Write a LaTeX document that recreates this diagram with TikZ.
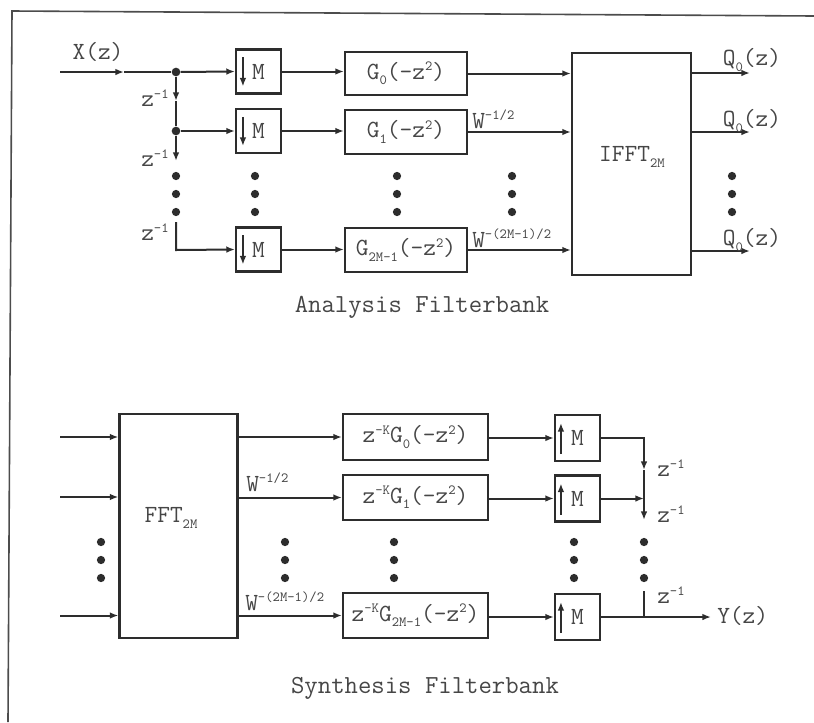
\documentclass[tikz,border=0pt]{standalone}
\usetikzlibrary{arrows.meta,calc}
\definecolor{lc}{RGB}{45,45,45}
\definecolor{tc}{RGB}{70,70,70}
\newcommand{\supx}[1]{\raisebox{0.8ex}{\fontsize{10.5}{11}\selectfont #1}}
\newcommand{\subx}[1]{\raisebox{-0.5ex}{\fontsize{10.5}{11}\selectfont #1}}
\begin{document}
\begin{tikzpicture}[x=0.75pt,y=-0.75pt,
  ln/.style={line width=1.5pt,draw=lc},
  arr/.style={ln,-{Latex[length=6.5pt,width=5pt]}},
  bx/.style={draw=lc,line width=1.6pt,inner sep=0pt,text=tc,font=\ttfamily\fontsize{18.5}{20}\selectfont},
  mbox/.style={bx,minimum width=33.75pt,minimum height=33pt},
  gbox/.style={bx,minimum width=91.5pt,minimum height=32.5pt},
  kbox/.style={bx,minimum width=108.75pt,minimum height=34pt},
  txt/.style={text=tc,inner sep=0pt,font=\ttfamily\fontsize{18.5}{20}\selectfont},
  ttl/.style={txt,font=\ttfamily\fontsize{19.5}{21}\selectfont},
  dot/.style={circle,fill=lc,inner sep=0pt,minimum size=6.5pt}]
\useasboundingbox (0,0) rectangle (814,722);
% frame
\draw[line width=1.2pt,draw=gray!60!black] (8,722) -- (12,11) -- (814,16);

% ================= Analysis =================
\coordinate (xin) at (60,72);
\coordinate (xmid) at (124,72);
\node[dot] (j1) at (176,72) {};
\node[dot] (j2) at (176,131) {};
\coordinate (d1mid) at (176,101);
\coordinate (d2end) at (176,161);
\coordinate (d3top) at (176,222);
\coordinate (d3corner) at (176,250);
\node[mbox] (am1) at (258.5,71.5) {M};
\node[mbox] (am2) at (258.5,131) {M};
\node[mbox] (am3) at (258.5,249.5) {M};
\node[gbox] (g1) at (406,73.5) {G\subx{0}(-z\supx{2})};
\node[gbox] (g2) at (406,132) {G\subx{1}(-z\supx{2})};
\node[gbox] (g3) at (406,250) {G\subx{2M-1}(-z\supx{2})};
\node[draw=lc,line width=1.6pt,minimum width=89.25pt,minimum height=166.5pt,inner sep=0pt] (ifft) at (631.5,164) {};
\node[txt] (ifftl) at (632,157) {IFFT\subx{2M}};
\coordinate (q1) at (750,73);
\coordinate (q2) at (750,132);
\coordinate (q3) at (750,251);

\draw[arr] (xin) -- (xmid);
\draw[ln] (xmid) -- (j1);
\draw[arr] (j1) -- (am1.west);
\draw[arr] (j1) -- (d1mid);
\draw[ln] (d1mid) -- (j2);
\draw[arr] (j2) -- (am2.west);
\draw[arr] (j2) -- (d2end);
\draw[arr] (d3top) -- (d3corner) -- (am3.west);
\foreach \m/\g in {am1/g1,am2/g2,am3/g3}{
  \draw[arr] (\m.east) -- (\g.west |- \m.east);
  \draw[arr] ($(\m.north west)+(8,9)$) -- ($(\m.south west)+(8,-8)$);
}
\foreach \g in {g1,g2,g3}
  \draw[arr] (\g.east) -- (ifft.west |- \g.east);
\foreach \q in {q1,q2,q3}
  \draw[arr] (ifft.east |- \q) -- (\q);

\node[txt,anchor=west] (zl1) at (141,98) {z\supx{-1}};
\node[txt,anchor=west] (zl2) at (141,158) {z\supx{-1}};
\node[txt,anchor=west] (zl3) at (141,232) {z\supx{-1}};
\node[txt] (xl) at (98,52) {X(z)};
\node[txt,anchor=west] (wa1) at (472,119) {W\supx{-1/2}};
\node[txt,anchor=west] (wa2) at (472,238) {W\supx{-(2M-1)/2}};
\node[txt] (ql1) at (752,60) {Q\subx{0}(z)};
\node[txt] (ql2) at (752,121) {Q\subx{0}(z)};
\node[txt] (ql3) at (752,240) {Q\subx{0}(z)};
\foreach \x in {176,255,397,512,732}
  \foreach \y in {176,194,212}
    \fill[lc] (\x,\y) circle (3.1pt);
\node[ttl] (atitle) at (422,307) {Analysis Filterbank};

% ================= Synthesis =================
\node[draw=lc,line width=1.6pt,minimum width=88.5pt,minimum height=168pt,inner sep=0pt] (fft) at (178.5,526) {};
\node[txt] (fftl) at (171,518) {FFT\subx{2M}};
\coordinate (s1) at (60,437);
\coordinate (s2) at (60,497);
\coordinate (s3) at (60,615.5);
\node[kbox] (k1) at (415.5,437) {z\supx{-K}G\subx{0}(-z\supx{2})};
\node[kbox] (k2) at (415.5,497.5) {z\supx{-K}G\subx{1}(-z\supx{2})};
\node[kbox] (k3) at (415.5,615.5) {z\supx{-K}G\subx{2M-1}(-z\supx{2})};
\node[mbox,minimum height=34.5pt] (sm1) at (577.5,438) {M};
\node[mbox,minimum height=34.5pt] (sm2) at (577.5,498.5) {M};
\node[mbox,minimum height=34.5pt] (sm3) at (577.5,617) {M};
\foreach \s in {s1,s2,s3}
  \draw[arr] (\s) -- (fft.west |- \s);
\foreach \k in {k1,k2,k3}
  \draw[arr] (fft.east |- \k.west) -- (\k.west);
\foreach \k/\m in {k1/sm1,k2/sm2,k3/sm3}{
  \draw[arr] (\k.east |- \m.west) -- (\m.west);
  \draw[arr] ($(\m.south west)+(7,-8)$) -- ($(\m.north west)+(7,9)$);
}
\coordinate (c1) at (644,438);
\coordinate (c1mid) at (644,470);
\coordinate (c2) at (644,498.5);
\coordinate (c2end) at (644,520);
\coordinate (c3top) at (644,591);
\coordinate (c3) at (644,617);
\coordinate (yout) at (711,617);
\draw[arr] (sm1.east) -- (c1) -- (c1mid);
\draw[ln] (c1mid) -- (c2);
\draw[arr] (sm2.east) -- (c2);
\draw[arr] (c2) -- (c2end);
\draw[ln] (c3top) -- (c3);
\draw[arr] (sm3.east) -- (yout);
\node[txt,anchor=west] (sz1) at (657,468) {z\supx{-1}};
\node[txt,anchor=west] (sz2) at (657,514) {z\supx{-1}};
\node[txt,anchor=west] (sz3) at (657,595) {z\supx{-1}};
\node[txt,anchor=west] (yl) at (717,616) {Y(z)};
\node[txt,anchor=west] (ws1) at (246,482) {W\supx{-1/2}};
\node[txt,anchor=west] (ws2) at (245,601) {W\supx{-(2M-1)/2}};
\foreach \x in {101,285,394,574,644}
  \foreach \y in {542,560,578}
    \fill[lc] (\x,\y) circle (3.1pt);
\node[ttl] (stitle) at (425,688) {Synthesis Filterbank};
\end{tikzpicture}
\end{document}
